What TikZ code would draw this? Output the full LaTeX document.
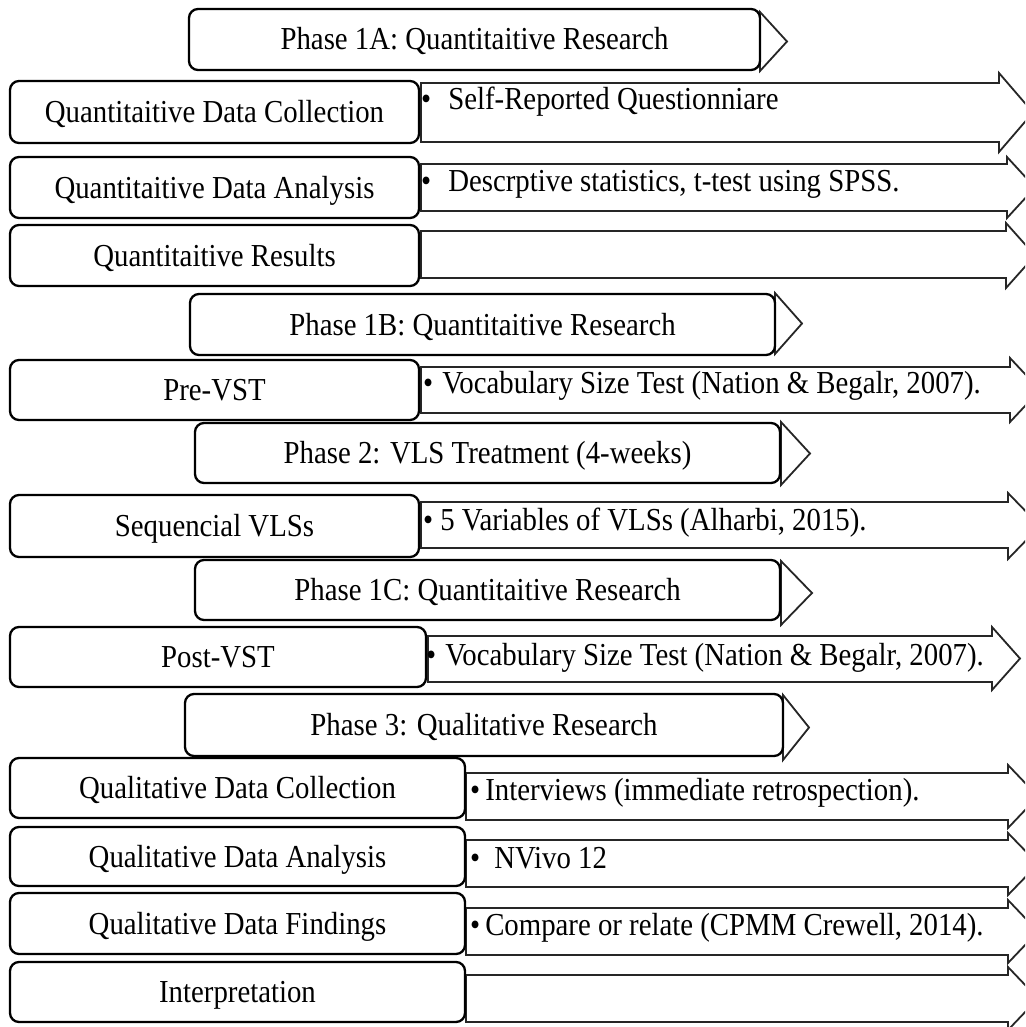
\documentclass[tikz,border=0pt]{standalone}
\usepackage{fontspec}
\setmainfont[FakeStretch=0.9]{Liberation Serif}
\newcommand{\warrow}[7]{%
  \draw[arr] (#1,#4) -- (#2,#4) -- (#2,#6) -- (#3,{(#6+#7)/2}) -- (#2,#7) -- (#2,#5) -- (#1,#5) -- cycle;}
\newcommand{\pharrow}[4]{%
  \draw[arr] (#1,#3) -- (#2,{(#3+#4)/2}) -- (#1,#4) -- cycle;}
\tikzset{
  box/.style={draw=black, line width=2.3pt, rounded corners=9pt, fill=white,
    text height=22pt, text depth=1pt, inner sep=0pt, font=\fontsize{32}{38}\selectfont},
  arr/.style={draw=black!85, line width=1.8pt, fill=white, line join=miter},
  lbl/.style={anchor=base west, inner sep=0pt, font=\fontsize{32}{38}\selectfont},
}
\begin{document}
\begin{tikzpicture}[x=1pt,y=-1pt]
\useasboundingbox (0,0) rectangle (1025,1027);
\clip (0,0) rectangle (1025,1027);
% ---------- arrows behind boxes ----------
\pharrow{760}{787}{12}{71}
\warrow{421}{999}{1033}{83}{142}{73}{152}
\warrow{421}{1007}{1035}{164}{211}{157}{218}
\warrow{421}{1006}{1035}{231}{278}{223}{288}
\pharrow{775}{802}{293}{354}
\warrow{421}{1010}{1040}{367}{413}{358}{422}
\pharrow{781}{810}{422}{485}
\warrow{421}{1008}{1040}{502}{548}{493}{559}
\pharrow{781}{812}{561}{625}
\warrow{428}{992}{1020}{636}{682}{627}{690}
\pharrow{783}{809}{695}{760}
\warrow{466}{1008}{1038}{773}{820}{765}{828}
\warrow{466}{1008}{1038}{840}{887}{833}{895}
\warrow{466}{1008}{1038}{908}{955}{900}{963}
\warrow{466}{1008}{1038}{975}{1022}{967}{1030}
% ---------- phase boxes ----------
\node[box, minimum width=571pt, minimum height=61pt] (p1a) at (474.5,39.5) {Phase 1A: Quantitaitive Research};
\node[box, minimum width=585pt, minimum height=61pt] (p1b) at (482.5,324.5) {Phase 1B: Quantitaitive Research};
\node[box, minimum width=585pt, minimum height=60pt] (p2) at (487.5,453) {Phase 2: VLS Treatment (4-weeks)};
\node[box, minimum width=585pt, minimum height=60pt] (p1c) at (487.5,590) {Phase 1C: Quantitaitive Research};
\node[box, minimum width=598pt, minimum height=62pt] (p3) at (484,725) {Phase 3: Qualitative Research};
% ---------- left boxes ----------
\node[box, minimum width=409pt, minimum height=62pt] (qdc) at (214.5,112) {Quantitaitive Data Collection};
\node[box, minimum width=409pt, minimum height=61pt] (qda) at (214.5,187.5) {Quantitaitive Data Analysis};
\node[box, minimum width=409pt, minimum height=61pt] (qr) at (214.5,255.5) {Quantitaitive Results};
\node[box, minimum width=409pt, minimum height=60pt] (pre) at (214.5,390) {Pre-VST};
\node[box, minimum width=409pt, minimum height=62pt] (seq) at (214.5,526) {Sequencial VLSs};
\node[box, minimum width=416pt, minimum height=60pt] (post) at (218,657) {Post-VST};
\node[box, minimum width=455pt, minimum height=60pt] (qldc) at (237.5,788) {Qualitative Data Collection};
\node[box, minimum width=455pt, minimum height=59pt] (qlda) at (237.5,856.5) {Qualitative Data Analysis};
\node[box, minimum width=455pt, minimum height=61pt] (qldf) at (237.5,923.5) {Qualitative Data Findings};
\node[box, minimum width=455pt, minimum height=60pt] (interp) at (237.5,992) {Interpretation};
% ---------- arrow texts ----------
\node[lbl] (t1) at (421,110) {•\hspace{17pt}Self-Reported Questionniare};
\node[lbl] (t2) at (421,192) {•\hspace{17pt}Descrptive statistics, t-test using SPSS.};
\node[lbl] (t4) at (423,393) {•\hspace{9pt}Vocabulary Size Test (Nation \& Begalr, 2007).};
\node[lbl] (t5) at (423,530) {•\hspace{7pt}5 Variables of VLSs (Alharbi, 2015).};
\node[lbl] (t6) at (426,665) {•\hspace{9pt}Vocabulary Size Test (Nation \& Begalr, 2007).};
\node[lbl] (t7) at (470,800) {•\hspace{5pt}Interviews (immediate retrospection).};
\node[lbl] (t8) at (470,868) {•\hspace{14pt}NVivo 12};
\node[lbl] (t9) at (470,935) {•\hspace{5pt}Compare or relate (CPMM Crewell, 2014).};
\end{tikzpicture}
\end{document}
